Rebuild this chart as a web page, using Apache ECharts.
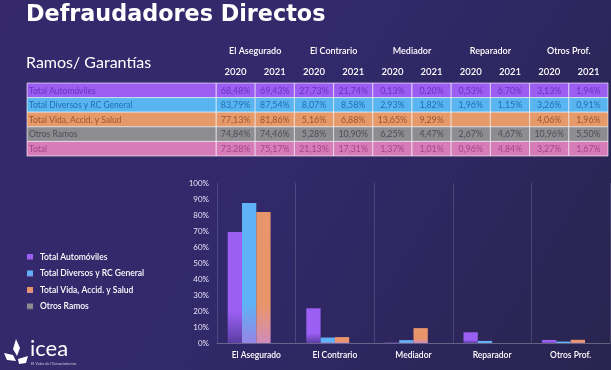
<!DOCTYPE html>
<html>
<head>
<meta charset="utf-8">
<script src="https://cdn.jsdelivr.net/npm/echarts@6/dist/echarts.min.js"></script>
<style>
html,body{margin:0;padding:0;background:#2c2656;}
#chart{width:611px;height:370px;}
</style>
</head>
<body>
<div id="chart"></div>
<script>
// ---------- data ----------
const categories = ['El Asegurado', 'El Contrario', 'Mediador', 'Reparador', 'Otros Prof.'];
const seriesNames = ['Total Automóviles', 'Total Diversos y RC General', 'Total Vida, Accid. y Salud', 'Otros Ramos'];
const autoValues = [69.4, 21.7, 0.2, 6.7, 1.9];
const diversosValues = [87.5, 3.4, 1.8, 1.3, 0.9];
const vidaValues = [81.9, 3.7, 9.3, null, 2.0];
const otrosValues = [null, null, null, null, null];
const yTickLabels = ['0%', '10%', '20%', '30%', '40%', '50%', '60%', '70%', '80%', '90%', '100%'];

const tableYears = ['2020', '2021', '2020', '2021', '2020', '2021', '2020', '2021', '2020', '2021'];
const tableRowNames = ['Total Automóviles', 'Total Diversos y RC General', 'Total Vida, Accid. y Salud', 'Otros Ramos', 'Total'];
const rowAuto = ['68,48%', '69,43%', '27,73%', '21,74%', '0,13%', '0,20%', '0,53%', '6,70%', '3,13%', '1,94%'];
const rowDiversos = ['83,79%', '87,54%', '8,07%', '8,58%', '2,93%', '1,82%', '1,96%', '1,15%', '3,26%', '0,91%'];
const rowVida = ['77,13%', '81,86%', '5,16%', '6,88%', '13,65%', '9,29%', '', '', '4,06%', '1,96%'];
const rowOtros = ['74,84%', '74,46%', '5,28%', '10,90%', '6,25%', '4,47%', '2,67%', '4,67%', '10,96%', '5,50%'];
const rowTotal = ['73,28%', '75,17%', '21,13%', '17,31%', '1,37%', '1,01%', '0,96%', '4,84%', '3,27%', '1,67%'];

// ---------- styles ----------
const FONT = 'Lato, "DejaVu Sans", sans-serif';
const rowFill = ['#9c5df1', '#58b5ef', '#e69a69', '#8d8c90', '#d67cb8'];
const rowText = ['#6a32c9', '#1f6fb4', '#9a5530', '#4e4d55', '#a8428a'];
const barTop = ['#9b5ff3', '#5fb2f6', '#e9956c', '#8d8c90'];
const barBottom = ['#5a3ea2', '#9585e4', '#d08cba', '#5d5c70'];

const tableRows = [rowAuto, rowDiversos, rowVida, rowOtros, rowTotal];
const valueCells = [];
tableRows.forEach((row, r) => row.forEach((txt, c) => valueCells.push([c, r, txt])));
const labelCells = tableRowNames.map((n, r) => [0, r, n]);

function grad(i) {
  return {
    type: 'linear', x: 0, y: 0, x2: 0, y2: 1,
    colorStops: [
      { offset: 0, color: barTop[i] },
      { offset: 0.72, color: barTop[i] },
      { offset: 1, color: barBottom[i] }
    ]
  };
}

function cellRect(api) {
  const pt = api.coord([api.value(0), api.value(1)]);
  const sz = api.size([1, 1]);
  return { pt, sz, x: pt[0] - sz[0] / 2, y: pt[1] - sz[1] / 2 };
}

function renderValueCell(params, api) {
  const r = api.value(1);
  const g = cellRect(api);
  const txt = valueCells[params.dataIndex][2];
  return {
    type: 'group',
    children: [
      { type: 'rect', shape: { x: g.x, y: g.y, width: g.sz[0], height: g.sz[1] },
        style: { fill: rowFill[r], stroke: 'rgba(255,255,255,0.6)', lineWidth: 1 } },
      { type: 'text', style: { x: g.pt[0], y: g.pt[1] + 0.5, text: txt, fill: rowText[r],
        align: 'center', verticalAlign: 'middle', fontSize: 8.8, fontFamily: FONT } }
    ]
  };
}

function renderLabelCell(params, api) {
  const r = api.value(1);
  const g = cellRect(api);
  const txt = labelCells[params.dataIndex][2];
  return {
    type: 'group',
    children: [
      { type: 'rect', shape: { x: g.x, y: g.y, width: g.sz[0], height: g.sz[1] },
        style: { fill: rowFill[r], stroke: 'rgba(255,255,255,0.6)', lineWidth: 1 } },
      { type: 'text', style: { x: g.x + 2, y: g.pt[1] + 0.5, text: txt, fill: rowText[r],
        align: 'left', verticalAlign: 'middle', fontSize: 8.5, fontFamily: FONT } }
    ]
  };
}

const barData = [autoValues, diversosValues, vidaValues, otrosValues];

const option = {
  animation: false,
  backgroundColor: {
    type: 'linear', x: 0, y: 0, x2: 1, y2: 1,
    colorStops: [
      { offset: 0, color: '#35296c' },
      { offset: 0.45, color: '#32296b' },
      { offset: 1, color: '#29244f' }
    ]
  },
  textStyle: { fontFamily: FONT },
  title: [
    { text: 'Defraudadores Directos', left: 26, top: 4, padding: 0,
      textStyle: { color: '#ffffff', fontSize: 22.3, fontWeight: 'bold', fontFamily: '"DejaVu Sans", sans-serif' } },
    { text: 'Ramos/ Garantías', left: 26, top: 55, padding: 0,
      textStyle: { color: '#ffffff', fontSize: 16, fontWeight: 'normal', fontFamily: FONT } }
  ],
  legend: {
    orient: 'vertical', left: 22, top: 247,
    itemWidth: 6, itemHeight: 6, itemGap: 6.5,
    icon: 'rect',
    data: seriesNames,
    textStyle: { color: '#ffffff', fontSize: 8.5, fontWeight: 600, lineHeight: 10, fontFamily: FONT, padding: [0, 0, 0, 2] }
  },
  grid: [
    { left: 217, top: 183, width: 393, height: 160 },
    { left: 216, top: 83, width: 392, height: 73 },
    { left: 27, top: 83, width: 189, height: 73 }
  ],
  xAxis: [
    { gridIndex: 0, type: 'category', data: categories,
      axisLine: { lineStyle: { color: 'rgba(255,255,255,0.28)' } },
      axisTick: { show: false },
      splitLine: { show: true, lineStyle: { color: 'rgba(255,255,255,0.14)' } },
      axisLabel: { color: '#ffffff', fontSize: 8.5, fontWeight: 600, margin: 8, fontFamily: FONT } },
    { gridIndex: 1, type: 'category', data: tableYears, position: 'top',
      axisLine: { show: false }, axisTick: { show: false },
      axisLabel: { color: '#ffffff', fontSize: 9.5, fontWeight: 600, margin: 6, interval: 0, fontFamily: FONT } },
    { gridIndex: 1, type: 'category', data: categories, position: 'top', offset: 21,
      axisLine: { show: false }, axisTick: { show: false },
      axisLabel: { color: '#ffffff', fontSize: 9, fontWeight: 600, margin: 6, interval: 0, fontFamily: FONT } },
    { gridIndex: 2, type: 'category', data: [''], show: false }
  ],
  yAxis: [
    { gridIndex: 0, type: 'value', min: 0, max: 100, interval: 10,
      axisLine: { show: false }, axisTick: { show: false }, splitLine: { show: false },
      axisLabel: { color: '#e6e2f4', fontSize: 8, margin: 8, fontFamily: FONT,
        formatter: (v) => yTickLabels[Math.round(v / 10)] } },
    { gridIndex: 1, type: 'category', data: tableRowNames, inverse: true, show: false },
    { gridIndex: 2, type: 'category', data: tableRowNames, inverse: true, show: false }
  ],
  series: [
    ...barData.map((vals, i) => ({
      name: seriesNames[i], type: 'bar', xAxisIndex: 0, yAxisIndex: 0,
      data: vals, barWidth: 14.3, barGap: '0%',
      itemStyle: { color: grad(i) }
    })),
    { type: 'custom', xAxisIndex: 1, yAxisIndex: 1, renderItem: renderValueCell,
      data: valueCells.map(d => [d[0], d[1]]), silent: true },
    { type: 'custom', xAxisIndex: 3, yAxisIndex: 2, renderItem: renderLabelCell,
      data: labelCells.map(d => [d[0], d[1]]), silent: true }
  ],
  graphic: [
    { type: 'group', left: 4, top: 339, children: [
      { type: 'polygon', shape: { points: [[12, 0], [16, 9], [13, 17], [9, 10]] }, style: { fill: '#ffffff' } },
      { type: 'polygon', shape: { points: [[0, 14], [9, 16], [12, 22], [3, 21]] }, style: { fill: '#ffffff' } },
      { type: 'polygon', shape: { points: [[14, 20], [24, 17], [22, 24], [15, 25]] }, style: { fill: '#ffffff' } }
    ] },
    { type: 'text', left: 30, top: 338,
      style: { text: 'icea', fill: '#ffffff', fontSize: 22, fontFamily: FONT } },
    { type: 'text', left: 31, top: 362,
      style: { text: 'El Valor del Conocimiento', fill: 'rgba(255,255,255,0.7)', fontSize: 4, fontFamily: FONT } }
  ]
};

const chart = echarts.init(document.getElementById('chart'), null, { renderer: 'canvas' });
chart.setOption(option);
</script>
</body>
</html>
